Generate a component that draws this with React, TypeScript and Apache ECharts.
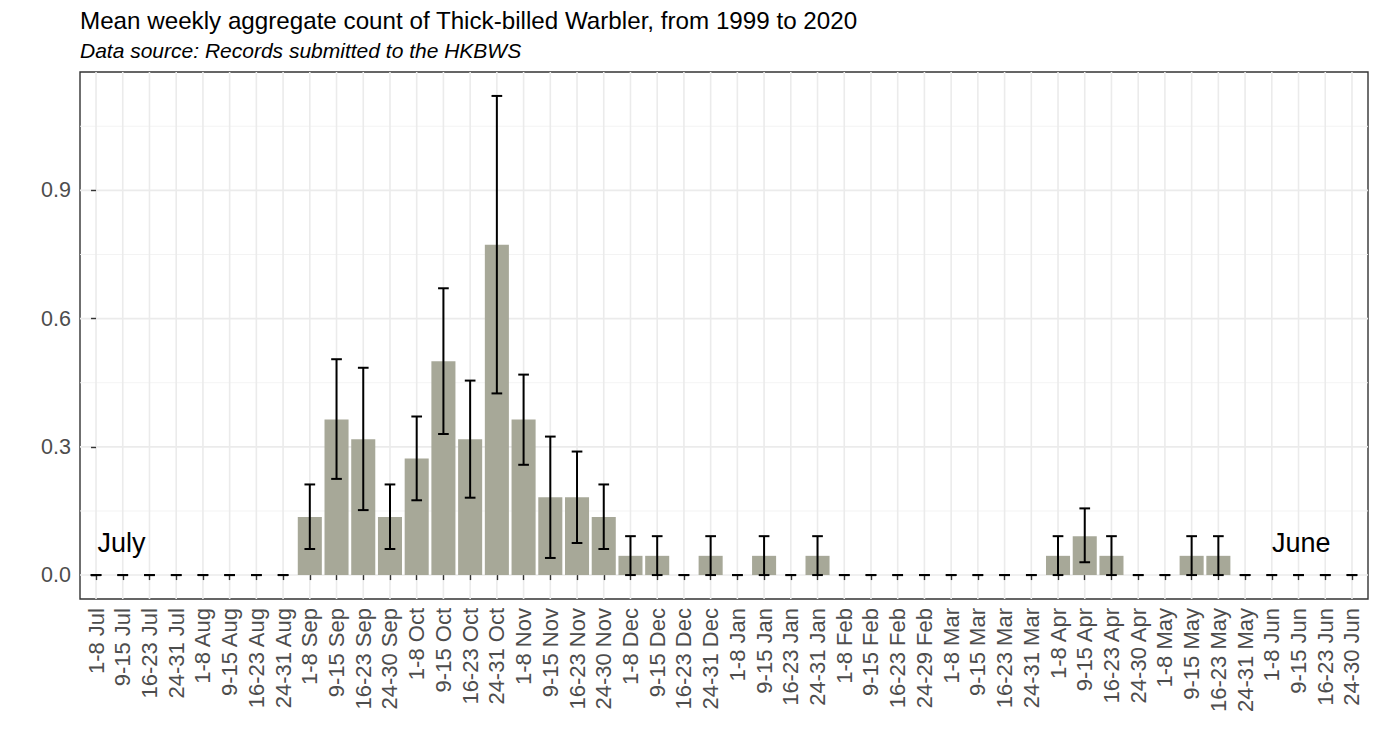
import React, { useEffect, useRef } from "react";
import * as echarts from "echarts";

const weeks = [
  "1-8 Jul", "9-15 Jul", "16-23 Jul", "24-31 Jul",
  "1-8 Aug", "9-15 Aug", "16-23 Aug", "24-31 Aug",
  "1-8 Sep", "9-15 Sep", "16-23 Sep", "24-30 Sep",
  "1-8 Oct", "9-15 Oct", "16-23 Oct", "24-31 Oct",
  "1-8 Nov", "9-15 Nov", "16-23 Nov", "24-30 Nov",
  "1-8 Dec", "9-15 Dec", "16-23 Dec", "24-31 Dec",
  "1-8 Jan", "9-15 Jan", "16-23 Jan", "24-31 Jan",
  "1-8 Feb", "9-15 Feb", "16-23 Feb", "24-29 Feb",
  "1-8 Mar", "9-15 Mar", "16-23 Mar", "24-31 Mar",
  "1-8 Apr", "9-15 Apr", "16-23 Apr", "24-30 Apr",
  "1-8 May", "9-15 May", "16-23 May", "24-31 May",
  "1-8 Jun", "9-15 Jun", "16-23 Jun", "24-30 Jun",
];

const means = [
  0, 0, 0, 0,
  0, 0, 0, 0,
  0.136, 0.364, 0.318, 0.136,
  0.273, 0.5, 0.318, 0.773,
  0.364, 0.182, 0.182, 0.136,
  0.045, 0.045, 0, 0.045,
  0, 0.045, 0, 0.045,
  0, 0, 0, 0,
  0, 0, 0, 0,
  0.045, 0.091, 0.045, 0,
  0, 0.045, 0.045, 0,
  0, 0, 0, 0,
];

const lower = [
  0, 0, 0, 0,
  0, 0, 0, 0,
  0.061, 0.225, 0.152, 0.061,
  0.175, 0.33, 0.181, 0.425,
  0.258, 0.04, 0.075, 0.061,
  0, 0, 0, 0,
  0, 0, 0, 0,
  0, 0, 0, 0,
  0, 0, 0, 0,
  0, 0.03, 0, 0,
  0, 0, 0, 0,
  0, 0, 0, 0,
];

const upper = [
  0, 0, 0, 0,
  0, 0, 0, 0,
  0.212, 0.505, 0.485, 0.212,
  0.371, 0.671, 0.455, 1.121,
  0.469, 0.324, 0.289, 0.212,
  0.091, 0.091, 0, 0.091,
  0, 0.091, 0, 0.091,
  0, 0, 0, 0,
  0, 0, 0, 0,
  0.091, 0.156, 0.091, 0,
  0, 0.091, 0.091, 0,
  0, 0, 0, 0,
];

const yTicks = [0, 0.3, 0.6, 0.9];
const yMinorGrid = [0.15, 0.45, 0.75, 1.05];
const monthLabelText = ["July", "June"];
const monthLabelPos = [[0.95, 0.076], [45.1, 0.076]];

const titleText = "Mean weekly aggregate count of Thick-billed Warbler, from 1999 to 2020";
const subtitleText = "Data source: Records submitted to the HKBWS";

const FONT = "'Liberation Sans', Arial, Helvetica, sans-serif";

export default function App() {
  const ref = useRef<HTMLDivElement>(null);

  useEffect(() => {
    if (!ref.current) return;
    const chart = echarts.init(ref.current, null, { renderer: "svg" });
    const idx = weeks.map((_, i) => i);

    const vLine = (params: any, api: any) => {
      const cs = params.coordSys;
      const x = api.coord([api.value(0), 0])[0];
      return {
        type: "line",
        shape: { x1: x, y1: cs.y, x2: x, y2: cs.y + cs.height },
        style: { stroke: "#EBEBEB", lineWidth: 1.6 },
        silent: true,
      };
    };
    const hLine = (w: number, c: string) => (params: any, api: any) => {
      const cs = params.coordSys;
      const y = api.coord([0, api.value(1)])[1];
      return {
        type: "line",
        shape: { x1: cs.x, y1: y, x2: cs.x + cs.width, y2: y },
        style: { stroke: c, lineWidth: w },
        silent: true,
      };
    };

    const option: any = {
      animation: false,
      backgroundColor: "#ffffff",
      textStyle: { fontFamily: FONT },
      graphic: [
        {
          type: "text",
          x: 80,
          y: 20,
          style: {
            text: titleText,
            font: `24.2px ${FONT}`,
            fill: "#000000",
            verticalAlign: "middle",
          },
        },
        {
          type: "text",
          x: 80,
          y: 50.5,
          style: {
            text: subtitleText,
            font: `italic 21px ${FONT}`,
            fill: "#000000",
            verticalAlign: "middle",
          },
        },
      ],
      grid: {
        left: 80,
        right: 11,
        top: 72,
        bottom: 153,
        show: true,
        borderColor: "#333333",
        borderWidth: 1.4,
        backgroundColor: "transparent",
        containLabel: false,
        outerBoundsMode: "none",
      },
      xAxis: {
        type: "value",
        min: -0.6,
        max: 47.6,
        axisLine: { show: false },
        splitLine: { show: false },
        axisTick: {
          show: true,
          customValues: idx,
          length: 5,
          lineStyle: { color: "#333333", width: 1.4 },
        },
        axisLabel: {
          customValues: idx,
          formatter: (v: number) => weeks[Math.round(v)] ?? "",
          rotate: 90,
          fontSize: 22,
          color: "#4D4D4D",
          margin: 9,
          fontFamily: FONT,
        },
      },
      yAxis: {
        type: "value",
        min: -0.056,
        max: 1.177,
        axisLine: { show: false },
        splitLine: { show: false },
        axisTick: {
          show: true,
          customValues: yTicks,
          length: 5,
          lineStyle: { color: "#333333", width: 1.4 },
        },
        axisLabel: {
          customValues: yTicks,
          formatter: (v: number) => v.toFixed(1),
          fontSize: 21.5,
          color: "#4D4D4D",
          margin: 9,
          fontFamily: FONT,
        },
      },
      series: [
        {
          type: "custom",
          z: 0,
          renderItem: hLine(0.9, "#F2F2F2"),
          data: yMinorGrid.map((v) => [0, v]),
          silent: true,
        },
        {
          type: "custom",
          z: 0,
          renderItem: hLine(1.6, "#EBEBEB"),
          data: yTicks.map((v) => [0, v]),
          silent: true,
        },
        {
          type: "custom",
          z: 0,
          renderItem: vLine,
          data: idx.map((i) => [i, 0]),
          silent: true,
        },
        {
          type: "bar",
          z: 2,
          barWidth: "90%",
          itemStyle: { color: "#A7A898" },
          data: means.map((v, i) => [i, v]),
          silent: true,
        },
        {
          type: "custom",
          z: 3,
          renderItem: (params: any, api: any) => {
            const i = api.value(0);
            const lo = api.coord([i, api.value(1)]);
            const hi = api.coord([i, api.value(2)]);
            const half = api.size([0.4, 0])[0] / 2;
            const st = { stroke: "#000000", lineWidth: 2, fill: "none" };
            return {
              type: "group",
              children: [
                { type: "line", shape: { x1: lo[0], y1: lo[1], x2: hi[0], y2: hi[1] }, style: st },
                { type: "line", shape: { x1: lo[0] - half, y1: lo[1], x2: lo[0] + half, y2: lo[1] }, style: st },
                { type: "line", shape: { x1: hi[0] - half, y1: hi[1], x2: hi[0] + half, y2: hi[1] }, style: st },
              ],
            };
          },
          data: idx.map((i) => [i, lower[i], upper[i]]),
          silent: true,
        },
        {
          type: "custom",
          z: 4,
          renderItem: (params: any, api: any) => {
            const p = api.coord([api.value(0), api.value(1)]);
            return {
              type: "text",
              x: p[0],
              y: p[1],
              style: {
                text: monthLabelText[params.dataIndex],
                font: `27px ${FONT}`,
                fill: "#000000",
                align: "center",
                verticalAlign: "middle",
              },
            };
          },
          data: monthLabelPos,
          silent: true,
        },
      ],
    };

    chart.setOption(option);
    return () => chart.dispose();
  }, []);

  return (
    <div
      ref={ref}
      style={{ position: "absolute", left: 0, top: 0, width: 1379, height: 752, background: "#fff" }}
    />
  );
}
